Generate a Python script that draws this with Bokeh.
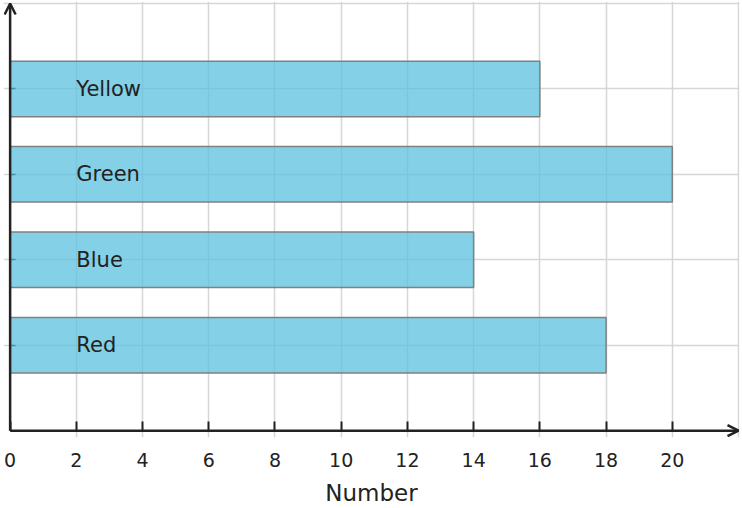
from bokeh.plotting import figure
from bokeh.models import (Range1d, FixedTicker, Arrow, OpenHead,
                          ColumnDataSource, LinearAxis)
from bokeh.core.properties import value
from bokeh.embed import file_html
from bokeh.resources import INLINE

# data
colours = ["Red", "Blue", "Green", "Yellow"]
numbers = [18, 14, 20, 16]
x_ticks = [0, 2, 4, 6, 8, 10, 12, 14, 16, 18, 20]
x_max = 22
label_x = 2

FONT = "DejaVu Sans"
DARK = "#222222"

# one slot per colour, bottom to top, with an empty slot above and below
slots = list(range(1, len(colours) + 1))
y_top = len(colours) + 1

p = figure(width=740, height=508, output_backend="svg", toolbar_location=None,
           y_range=Range1d(-0.08, y_top + 0.023),
           x_range=Range1d(-0.2, x_max + 0.03),
           min_border_left=3, min_border_right=1, min_border_top=1,
           min_border_bottom=70)

source = ColumnDataSource(data=dict(colour=colours, number=numbers, slot=slots,
                                    lx=[label_x] * len(colours)))

p.hbar(y="slot", right="number", left=0, height=0.65, source=source,
       fill_color="#5bc0de", fill_alpha=0.75,
       line_color="#808080", line_width=1.5)

p.text(x="lx", y="slot", text="colour", source=source,
       text_font=value(FONT), text_font_size="21px", text_color=DARK,
       text_baseline="middle", text_align="left")

# grid (the top and right lines are grid lines too)
p.xgrid.ticker = FixedTicker(ticks=x_ticks[1:] + [x_max])
p.ygrid.ticker = FixedTicker(ticks=slots + [y_top])
p.grid.grid_line_color = "#d6d6d6"
p.grid.grid_line_width = 1.5
p.outline_line_color = None

# tick marks sit on the x = 0 line (labels are on the axis below)
p.xaxis.fixed_location = 0
p.xaxis.ticker = FixedTicker(ticks=x_ticks)
p.xaxis.major_label_overrides = {t: "" for t in x_ticks}
p.xaxis.major_label_text_font_size = "1px"
p.xaxis.major_label_standoff = 0
p.xaxis.major_tick_in = 9
p.xaxis.major_tick_out = 0
p.xaxis.major_tick_line_width = 2
p.xaxis.major_tick_line_color = DARK
p.xaxis.minor_tick_line_color = None
p.xaxis.axis_line_color = None

# tick labels and axis title on a bare axis below the frame
label_axis = LinearAxis(axis_label="Number", ticker=FixedTicker(ticks=x_ticks),
                        axis_line_color=None, major_tick_line_color=None,
                        minor_tick_line_color=None,
                        major_label_text_font=FONT,
                        major_label_text_font_size="19px",
                        major_label_text_color=DARK,
                        major_label_standoff=9, axis_label_standoff=10,
                        axis_label_text_font=FONT,
                        axis_label_text_font_size="23px",
                        axis_label_text_font_style="normal",
                        axis_label_text_color=DARK)
p.add_layout(label_axis, "below")

# y axis: no labels, small inner ticks at the bars
p.yaxis.fixed_location = 0
p.yaxis.ticker = FixedTicker(ticks=slots)
p.yaxis.major_label_overrides = {t: "" for t in slots}
p.yaxis.major_label_text_font_size = "1px"
p.yaxis.major_label_standoff = 0
p.yaxis.major_tick_in = 5
p.yaxis.major_tick_out = 0
p.yaxis.major_tick_line_color = "#3f8fb3"
p.yaxis.major_tick_line_width = 1.5
p.yaxis.minor_tick_line_color = None
p.yaxis.axis_line_color = None

# arrow axes
p.add_layout(Arrow(x_start=0, y_start=0, x_end=x_max, y_end=0,
                   line_color=DARK, line_width=2.5,
                   end=OpenHead(size=11, line_color=DARK, line_width=2.5)))
p.add_layout(Arrow(x_start=0, y_start=0, x_end=0, y_end=y_top,
                   line_color=DARK, line_width=2.5,
                   end=OpenHead(size=11, line_color=DARK, line_width=2.5)))

open("out.html", "w").write(file_html(p, INLINE))
